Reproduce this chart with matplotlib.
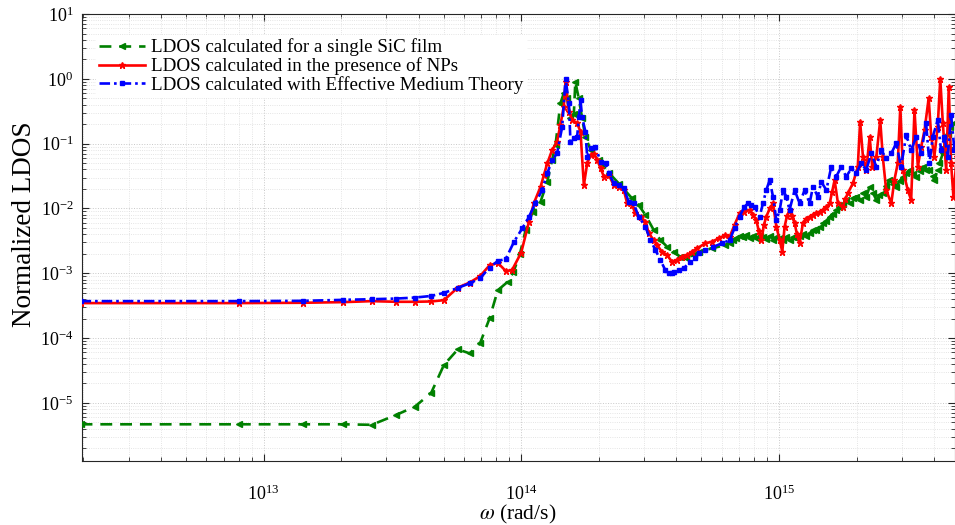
import numpy as np
import matplotlib
matplotlib.use("Agg")
import matplotlib.pyplot as plt
from matplotlib.ticker import LogLocator, LogFormatterSciNotation, NullFormatter, FixedLocator

plt.rcParams['font.family'] = ['Liberation Serif', 'DejaVu Serif']
plt.rcParams['mathtext.fontset'] = 'stix'

# ---- data (log10 of omega [rad/s], log10 of normalized LDOS) ----
green_logw = [12.29, 12.903, 13.155, 13.31, 13.42, 13.515, 13.587, 13.65, 13.70, 13.754, 13.80, 13.84,
              13.877, 13.909, 13.948, 13.97, 13.995, 14.017, 14.045, 14.075, 14.101, 14.12, 14.133, 14.152,
              14.165, 14.178, 14.191, 14.204, 14.21, 14.223, 14.236, 14.249, 14.27, 14.3, 14.34, 14.38,
              14.43, 14.456, 14.482, 14.514, 14.54, 14.566, 14.591, 14.617, 14.64, 14.669, 14.688, 14.74,
              14.792, 14.809, 14.822, 14.835, 14.848, 14.86, 14.873, 14.886, 14.899, 14.912, 14.925, 14.938,
              14.951, 14.964, 14.977, 14.99, 15.003, 15.016, 15.029, 15.041, 15.054, 15.067, 15.08, 15.093,
              15.106, 15.119, 15.132, 15.145, 15.158, 15.171, 15.184, 15.197, 15.21, 15.222, 15.235, 15.248,
              15.261, 15.274, 15.287, 15.30, 15.313, 15.326, 15.339, 15.352, 15.365, 15.378, 15.39, 15.403,
              15.416, 15.429, 15.442, 15.455, 15.468, 15.481, 15.494, 15.507, 15.52, 15.533, 15.546, 15.558,
              15.571, 15.584, 15.597, 15.603, 15.616, 15.623, 15.636, 15.642, 15.655, 15.662, 15.681]
green_logy = [-5.33, -5.33, -5.33, -5.33, -5.338, -5.185, -5.057, -4.85, -4.415, -4.174, -4.236, -4.082,
              -3.697, -3.262, -3.13, -2.98, -2.70, -2.333, -2.05, -1.896, -1.588, -1.25, -1.022, -0.378,
              -0.224, -0.30, -0.60, -0.55, -0.045, -0.30, -0.60, -0.90, -1.10, -1.25, -1.45, -1.62,
              -1.844, -1.95, -2.10, -2.333, -2.488, -2.59, -2.668, -2.745, -2.76, -2.72, -2.668, -2.616,
              -2.565, -2.539, -2.49, -2.46, -2.42, -2.437, -2.41, -2.45, -2.42, -2.46, -2.43, -2.437,
              -2.47, -2.43, -2.48, -2.44, -2.461, -2.49, -2.44, -2.48, -2.44, -2.461, -2.43, -2.40,
              -2.42, -2.384, -2.34, -2.33, -2.282, -2.22, -2.19, -2.128, -2.08, -2.02, -1.973, -1.93,
              -1.87, -1.92, -1.84, -1.819, -1.87, -1.767, -1.82, -1.665, -1.76, -1.87, -1.80, -1.767,
              -1.66, -1.562, -1.63, -1.665, -1.58, -1.511, -1.46, -1.407, -1.47, -1.511, -1.42, -1.356,
              -1.40, -1.407, -1.50, -1.562, -1.40, -1.304, -1.15, -1.048, -0.85, -0.739, -0.687]

red_logw = [12.29, 12.903, 13.155, 13.31, 13.42, 13.515, 13.587, 13.65, 13.70, 13.754, 13.80, 13.84,
            13.877, 13.909, 13.94, 13.964, 14.0, 14.03, 14.049, 14.075, 14.088, 14.101, 14.12, 14.139,
            14.152, 14.165, 14.172, 14.185, 14.198, 14.217, 14.23, 14.243, 14.256, 14.269, 14.282, 14.295,
            14.308, 14.321, 14.34, 14.359, 14.379, 14.398, 14.411, 14.43, 14.443, 14.463, 14.482, 14.495,
            14.514, 14.527, 14.546, 14.566, 14.585, 14.604, 14.624, 14.643, 14.662, 14.682, 14.714, 14.74,
            14.766, 14.792, 14.809, 14.828, 14.847, 14.865, 14.886, 14.899, 14.912, 14.922, 14.932, 14.942,
            14.951, 14.964, 14.977, 14.99, 15.003, 15.013, 15.022, 15.031, 15.041, 15.051, 15.061, 15.07,
            15.08, 15.093, 15.106, 15.119, 15.132, 15.145, 15.158, 15.171, 15.184, 15.197, 15.206, 15.216,
            15.229, 15.248, 15.258, 15.267, 15.287, 15.306, 15.315, 15.326, 15.339, 15.352, 15.362, 15.378,
            15.393, 15.403, 15.416, 15.436, 15.448, 15.461, 15.471, 15.481, 15.50, 15.513, 15.526, 15.539,
            15.552, 15.565, 15.581, 15.591, 15.603, 15.616, 15.626, 15.636, 15.649, 15.659, 15.668, 15.677,
            15.69]
red_logy = [-3.46, -3.46, -3.455, -3.445, -3.43, -3.44, -3.44, -3.435, -3.415, -3.22, -3.143, -3.046,
            -2.877, -2.84, -2.964, -2.954, -2.68, -2.205, -1.92, -1.665, -1.485, -1.304, -1.099, -0.97,
            -0.713, -0.43, -0.05, -0.507, -0.636, -0.687, -0.816, -1.64, -1.304, -1.176, -1.166, -1.253,
            -1.382, -1.51, -1.485, -1.64, -1.665, -1.716, -1.921, -1.948, -2.076, -2.128, -2.205, -2.384,
            -2.488, -2.565, -2.668, -2.719, -2.822, -2.796, -2.745, -2.719, -2.668, -2.616, -2.539, -2.513,
            -2.461, -2.41, -2.437, -2.25, -2.076, -2.05, -2.025, -2.10, -2.179, -2.35, -2.488, -2.25,
            -2.128, -2.00, -1.921, -2.282, -2.488, -2.668, -2.282, -2.12, -2.025, -2.12, -2.23, -2.40,
            -2.539, -2.23, -2.16, -2.128, -2.10, -2.076, -2.05, -2.025, -1.98, -1.921, -1.75, -1.562,
            -1.921, -1.973, -1.85, -1.767, -1.613, -1.356, -0.662, -1.202, -1.407, -0.893, -1.356, -1.202,
            -0.636, -1.202, -1.716, -1.921, -1.562, -1.304, -0.43, -1.407, -1.716, -1.87, -0.481, -1.356,
            -1.048, -0.79, -0.301, -0.893, -1.202, -0.739, 0.0, -0.687, -1.407, -0.122, -1.304, -1.819,
            -1.2]

blue_logw = [12.29, 12.903, 13.155, 13.31, 13.42, 13.515, 13.587, 13.65, 13.70, 13.754, 13.80, 13.84,
             13.877, 13.909, 13.94, 13.972, 14.004, 14.03, 14.055, 14.081, 14.101, 14.12, 14.139, 14.159,
             14.172, 14.185, 14.191, 14.204, 14.217, 14.224, 14.23, 14.236, 14.249, 14.256, 14.269, 14.288,
             14.308, 14.327, 14.34, 14.359, 14.379, 14.398, 14.417, 14.436, 14.456, 14.482, 14.501, 14.521,
             14.54, 14.559, 14.572, 14.585, 14.591, 14.611, 14.63, 14.656, 14.675, 14.688, 14.714, 14.746,
             14.778, 14.809, 14.828, 14.847, 14.865, 14.88, 14.893, 14.906, 14.925, 14.938, 14.951, 14.964,
             14.977, 14.99, 15.003, 15.016, 15.029, 15.041, 15.061, 15.08, 15.10, 15.119, 15.132, 15.151,
             15.164, 15.184, 15.203, 15.222, 15.242, 15.261, 15.281, 15.30, 15.319, 15.339, 15.358, 15.378,
             15.397, 15.416, 15.436, 15.455, 15.474, 15.494, 15.513, 15.533, 15.552, 15.571, 15.584, 15.597,
             15.616, 15.629, 15.642, 15.655, 15.668, 15.681, 15.69]
blue_logy = [-3.43, -3.43, -3.425, -3.41, -3.40, -3.39, -3.375, -3.35, -3.303, -3.226, -3.155, -3.08,
             -2.912, -2.81, -2.78, -2.514, -2.307, -2.128, -1.92, -1.716, -1.458, -1.253, -1.15, -0.739,
             0.0, -0.378, -0.97, -0.918, -0.893, -0.585, -0.327, -0.585, -0.816, -1.202, -1.073, -1.048,
             -1.279, -1.304, -1.458, -1.613, -1.639, -1.69, -1.896, -1.921, -2.128, -2.282, -2.488, -2.642,
             -2.796, -2.95, -3.002, -3.0, -2.976, -2.95, -2.925, -2.822, -2.77, -2.693, -2.642, -2.591,
             -2.539, -2.488, -2.30, -2.128, -1.98, -1.921, -1.95, -1.973, -2.128, -1.921, -1.716, -1.562,
             -1.819, -2.179, -2.025, -1.716, -1.819, -2.025, -1.716, -1.921, -1.716, -1.921, -1.665, -1.819,
             -1.588, -1.716, -1.356, -1.511, -1.356, -1.511, -1.382, -1.458, -1.304, -1.407, -1.15, -1.356,
             -1.099, -1.227, -1.15, -0.995, -1.356, -0.867, -1.099, -0.893, -1.15, -0.687, -1.304, -0.893,
             -0.636, -1.099, -0.893, -1.202, -0.559, -1.099, -0.90]

x_major_ticks = [1e13, 1e14, 1e15]
y_major_ticks = [1e-5, 1e-4, 1e-3, 1e-2, 1e-1, 1e0, 1e1]

legend_labels = ["LDOS calculated for a single SiC film",
                 "LDOS calculated in the presence of NPs",
                 "LDOS calculated with Effective Medium Theory"]

fig = plt.figure(figsize=(9.55, 5.25), dpi=100)
ax = fig.add_axes([81.7 / 955, 64 / 525, (954.5 - 81.7) / 955, 447 / 525])

to_lin = lambda a: np.power(10.0, np.asarray(a))

ax.plot(to_lin(green_logw), to_lin(green_logy), color='#008000', linestyle=(0, (4.5, 3)), lw=1.9,
        marker='<', ms=4, label=legend_labels[0], zorder=3)
ax.plot(to_lin(red_logw), to_lin(red_logy), color='#ff0000', linestyle='-', lw=1.9,
        marker='*', ms=5, label=legend_labels[1], zorder=4)
ax.plot(to_lin(blue_logw), to_lin(blue_logy), color='#0000ff', linestyle=(0, (4, 1.5, 1, 1.5)), lw=1.9,
        marker='s', ms=3.5, label=legend_labels[2], zorder=5)

ax.set_xscale('log')
ax.set_yscale('log')
ax.set_xlim(1.97e12, 4.8e15)
ax.set_ylim(1.27e-6, 10)

ax.xaxis.set_major_locator(FixedLocator(x_major_ticks))
ax.yaxis.set_major_locator(FixedLocator(y_major_ticks))
ax.xaxis.set_minor_locator(LogLocator(base=10, subs=np.arange(2, 10), numticks=100))
ax.yaxis.set_minor_locator(LogLocator(base=10, subs=np.arange(2, 10), numticks=100))
ax.xaxis.set_major_formatter(LogFormatterSciNotation())
ax.yaxis.set_major_formatter(LogFormatterSciNotation())
ax.xaxis.set_minor_formatter(NullFormatter())
ax.yaxis.set_minor_formatter(NullFormatter())

ax.tick_params(which='both', direction='in', top=True, right=True, labelsize=13, color='#262626')
ax.tick_params(which='major', length=5, width=0.8)
ax.tick_params(which='minor', length=3, width=0.6)
ax.tick_params(axis='x', pad=17)
ax.tick_params(axis='y', pad=6)

ax.grid(which='major', linestyle=':', color='#c8c8c8', lw=0.7)
ax.grid(which='minor', linestyle=':', color='#dcdcdc', lw=0.6)
ax.set_axisbelow(True)
for s in ax.spines.values():
    s.set_color('#262626')
    s.set_linewidth(0.8)

ax.set_xlabel(r'$\omega$ (rad/s)', fontsize=15.5)
ax.xaxis.set_label_coords(0.5, -0.095)
ax.set_ylabel('Normalized LDOS', fontsize=19.5)
ax.yaxis.set_label_coords(-0.051, 0.53)

leg = ax.legend(loc='upper left', bbox_to_anchor=(0.005, 0.975), frameon=True, fontsize=13.7,
                handlelength=2.4, handletextpad=0.3, borderpad=0.2, labelspacing=0.05)
leg.get_frame().set_edgecolor('none')
leg.get_frame().set_facecolor('white')
leg.get_frame().set_alpha(1.0)

fig.savefig('out.png', dpi=100)
